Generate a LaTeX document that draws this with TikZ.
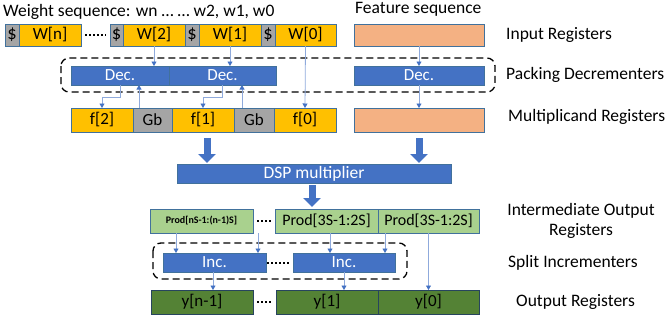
\documentclass[tikz,border=0pt]{standalone}
\usepackage{fontspec}
\setmainfont{Carlito}
\usetikzlibrary{arrows.meta,calc}
\definecolor{gold}{HTML}{FFC000}
\definecolor{gb}{HTML}{A5A5A5}
\definecolor{feat}{HTML}{F4B183}
\definecolor{blu}{HTML}{4472C4}
\definecolor{lgreen}{HTML}{A9D18E}
\definecolor{dgreen}{HTML}{548235}
\definecolor{edge}{HTML}{41719C}
\definecolor{lconn}{HTML}{8FAADC}
\tikzset{
  reg/.style={draw=edge, line width=0.9pt, inner sep=0pt, outer sep=0pt, font=\fontsize{17}{19}\selectfont},
  goldbox/.style={reg, fill=gold},
  graybox/.style={reg, fill=gb, font=\fontsize{18.5}{19}\selectfont},
  featbox/.style={reg, fill=feat},
  bluebox/.style={reg, fill=blu, text=white, font=\fontsize{17}{19}\selectfont},
  lgbox/.style={reg, fill=lgreen},
  dgbox/.style={reg, fill=dgreen, draw=edge!60!black},
  conn/.style={draw=lconn, line width=0.8pt, -{Triangle[length=4.5pt,width=5pt,color=blu]}},
  bigarrow/.style={draw=blu, line width=7pt, -{Triangle[length=9pt,width=17pt]}},
  dotline/.style={draw=black, line width=2pt, dash pattern=on 1.6pt off 2.4pt, shorten <=4pt, shorten >=4pt},
  dashbox/.style={draw=black, line width=1.3pt, dash pattern=on 7pt off 4pt, rounded corners=8pt},
  lab/.style={font=\fontsize{17.5}{20}\selectfont, inner sep=0pt, anchor=west},
}
\begin{document}
\begin{tikzpicture}[x=1pt,y=-1pt]
\useasboundingbox (0,0) rectangle (665,322);
% titles
\node[lab] (t1) at (3,12) {Weight sequence: wn … … w2, w1, w0};
\node[lab] (t2) at (355,9) {Feature sequence};
% row 1
\node[graybox, minimum width=14pt, minimum height=22pt] (s0) at (12,35) {\$};
\node[goldbox, minimum width=62pt, minimum height=22pt] (wn) at (50,35) {W[n]};
\node[graybox, minimum width=13pt, minimum height=22pt] (s2) at (116.5,35) {\$};
\node[goldbox, minimum width=62pt, minimum height=22pt] (w2) at (154,35) {W[2]};
\node[graybox, minimum width=14pt, minimum height=22pt] (s1) at (192,35) {\$};
\node[goldbox, minimum width=62pt, minimum height=22pt] (w1) at (230,35) {W[1]};
\node[graybox, minimum width=14pt, minimum height=22pt] (s00) at (268,35) {\$};
\node[goldbox, minimum width=61pt, minimum height=22pt] (w0) at (305.5,35) {W[0]};
\node[featbox, minimum width=130pt, minimum height=22pt] (fi) at (419,35) {};
\draw[dotline] (wn.east) -- (s2.west);
% dashed box 1
\draw[dashbox] (61,58) rectangle (495,92);
% dec row
\node[bluebox, minimum width=98pt, minimum height=19pt] (dec1) at (120,75.5) {Dec.};
\node[bluebox, minimum width=107pt, minimum height=19pt] (dec2) at (222.5,75.5) {Dec.};
\node[bluebox, minimum width=130pt, minimum height=19pt] (dec3) at (419,75.5) {Dec.};
% row 3
\node[goldbox, minimum width=62pt, minimum height=24pt] (f2) at (102,120) {f[2]};
\node[graybox, minimum width=39pt, minimum height=24pt, font=\fontsize{17}{19}\selectfont] (gb1) at (152.5,120) {Gb};
\node[goldbox, minimum width=62pt, minimum height=24pt] (f1) at (203,120) {f[1]};
\node[graybox, minimum width=40pt, minimum height=24pt, font=\fontsize{17}{19}\selectfont] (gb2) at (254,120) {Gb};
\node[goldbox, minimum width=62pt, minimum height=24pt] (f0) at (305,120) {f[0]};
\node[featbox, minimum width=130pt, minimum height=24pt] (fm) at (419,120) {};
% connectors top
\draw[conn] (w2.south) -- (w2.south |- dec1.north);
\draw[conn] (w1.south) -- (w1.south |- dec2.north);
\draw[conn] (w0.south) -- (f0.north);
\draw[conn] (fi.south) -- (dec3.north);
\draw[conn] (dec3.south) -- (fm.north);
\draw[conn] (dec1.south) -- ++(0,12) -| (f2.north);
\draw[conn] (dec2.south) -- ++(0,12) -| (f1.north);
\draw[conn] ([xshift=-13.5pt]gb1.north) -- ([xshift=-13.5pt]gb1.north |- dec1.south);
\draw[conn] ([xshift=-12pt]gb2.north) -- ([xshift=-12pt]gb2.north |- dec2.south);
% DSP
\node[bluebox, minimum width=274pt, minimum height=19pt, font=\fontsize{17.5}{19}\selectfont] (dsp) at (314,173.5) {DSP multiplier};
\draw[bigarrow, shorten <=6pt, shorten >=1pt] ([xshift=4pt]f1.south) -- ([xshift=4pt]f1.south |- dsp.north);
\draw[bigarrow, shorten <=6pt, shorten >=1pt] (fm.south) -- (fm.south |- dsp.north);
% prod row
\node[lgbox, minimum width=103pt, minimum height=24pt, font=\bfseries\fontsize{10}{11}\selectfont] (pn) at (201.5,221) {Prod[nS-1:(n-1)S]};
\node[lgbox, minimum width=103pt, minimum height=24pt, font=\fontsize{16}{18}\selectfont] (p3a) at (326.5,221) {Prod[3S-1:2S]};
\node[lgbox, minimum width=101pt, minimum height=24pt, font=\fontsize{16}{18}\selectfont] (p3b) at (428.5,221) {Prod[3S-1:2S]};
\draw[dotline] (pn.east) -- (p3a.west);
\draw[bigarrow, shorten <=2pt, shorten >=2pt] ([xshift=-2pt]dsp.south) -- ([xshift=-2pt]dsp.south |- p3a.north);
% dashed box 2
\draw[dashbox] (153,243) rectangle (407,279);
% inc row
\node[bluebox, minimum width=103pt, minimum height=19pt] (inc1) at (214.5,262.5) {Inc.};
\node[bluebox, minimum width=102pt, minimum height=19pt] (inc2) at (344,262.5) {Inc.};
\draw[dotline, shorten <=1pt, shorten >=4pt] (inc1.east) -- (inc2.west);
% output row
\node[dgbox, minimum width=102pt, minimum height=24pt] (yn) at (202,302) {y[n-1]};
\node[dgbox, minimum width=102pt, minimum height=24pt] (y1) at (327,302) {y[1]};
\node[dgbox, minimum width=101pt, minimum height=24pt] (y0) at (428.5,302) {y[0]};
\draw[dotline] (yn.east) -- (y1.west);
% lower connectors
\draw[conn] ([xshift=-25.5pt]pn.south) -- ([xshift=-25.5pt]pn.south |- inc1.north);
\draw[conn] ([xshift=5pt]pn.south east) -- ([xshift=5pt]pn.south east |- inc1.north);
\draw[conn] ([xshift=3.5pt]p3a.south) -- ([xshift=3.5pt]p3a.south |- inc2.north);
\draw[conn] ([xshift=-43.5pt]p3b.south) -- ([xshift=-43.5pt]p3b.south |- inc2.north);
\draw[conn] (p3b.south) -- (y0.north);
\draw[conn] ([xshift=-1.5pt]inc1.south) -- ([xshift=-1.5pt]inc1.south |- yn.north);
\draw[conn] (inc2.south) -- (inc2.south |- y1.north);
% right labels
\node[lab] (l1) at (506,35) {Input Registers};
\node[lab] (l2) at (506,75) {Packing Decrementers};
\node[lab] (l3) at (508,117) {Multiplicand Registers};
\node[lab, align=center, anchor=north] (l4) at (581,203) {Intermediate Output\\Registers};
\node[lab] (l5) at (508,263) {Split Incrementers};
\node[lab] (l6) at (516,302) {Output Registers};
\end{tikzpicture}
\end{document}
